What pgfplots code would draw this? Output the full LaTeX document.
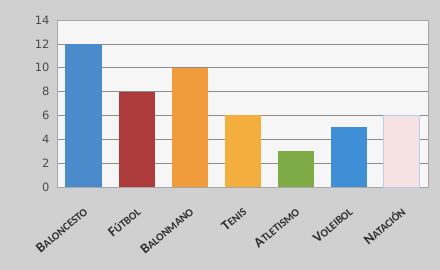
\documentclass[border=0pt]{standalone}
\usepackage{pgfplots}
\pgfplotsset{compat=1.18}
\usepackage{fontspec}
\setmainfont{Carlito}
\newfontfamily\numfont{DejaVu Sans}
\usetikzlibrary{backgrounds}
\definecolor{bgout}{HTML}{D0D0D0}
\definecolor{plotbg}{HTML}{F6F6F6}
\definecolor{gridc}{HTML}{8C8C8C}
\definecolor{cBal}{HTML}{4A8CCB}
\definecolor{cFut}{HTML}{AE3B3C}
\definecolor{cBmano}{HTML}{F19B3C}
\definecolor{cTen}{HTML}{F3AE3E}
\definecolor{cAtl}{HTML}{7EAB45}
\definecolor{cVol}{HTML}{3F8FD6}
\definecolor{cNat}{HTML}{F6E2E2}
\definecolor{txt}{HTML}{2E2E2E}
\newcommand{\fsc}[2]{#1{\fontsize{11}{12}\selectfont #2}}
\begin{document}
\begin{tikzpicture}
\begin{axis}[
  at={(0,0)}, anchor=south west,
  scale only axis, width=371bp, height=167bp,
  xmin=-0.5, xmax=6.5, ymin=0, ymax=14,
  ytick={0,2,...,14},
  xtick={0,...,6},
  xticklabels={\fsc{B}{ALONCESTO},\fsc{F}{ÚTBOL},\fsc{B}{ALONMANO},\fsc{T}{ENIS},\fsc{A}{TLETISMO},\fsc{V}{OLEIBOL},\fsc{N}{ATACIÓN}},
  x tick label style={rotate=40, anchor=north east, font=\fontsize{14}{15}\selectfont\bfseries, text=txt, xshift=-12bp, yshift=-13bp, inner sep=1bp},
  y tick label style={font=\numfont\fontsize{11.5}{12}\selectfont, text=txt!85, xshift=-4bp},
  /pgf/number format/assume math mode=true,
  major tick length=0pt,
  ymajorgrids, grid style={gridc, line width=0.7pt},
  axis line style={draw=gray!70, line width=0.6pt},
  axis background/.style={fill=plotbg},
  ybar, bar width=36bp, bar shift=0pt,
  every axis plot/.append style={draw=none},
  clip=false,
]
\addplot[fill=cBal] coordinates {(0,12)};
\addplot[fill=cFut] coordinates {(1,8)};
\addplot[fill=cBmano] coordinates {(2,10)};
\addplot[fill=cTen] coordinates {(3,6)};
\addplot[fill=cAtl] coordinates {(4,3)};
\addplot[fill=cVol] coordinates {(5,5)};
\addplot[fill=cNat, draw=cBal!40, line width=0.4pt] coordinates {(6,6)};
\end{axis}
\begin{scope}[on background layer]
\fill[bgout] (-57bp,-83bp) rectangle (383bp,187bp);
\end{scope}
\end{tikzpicture}
\end{document}
